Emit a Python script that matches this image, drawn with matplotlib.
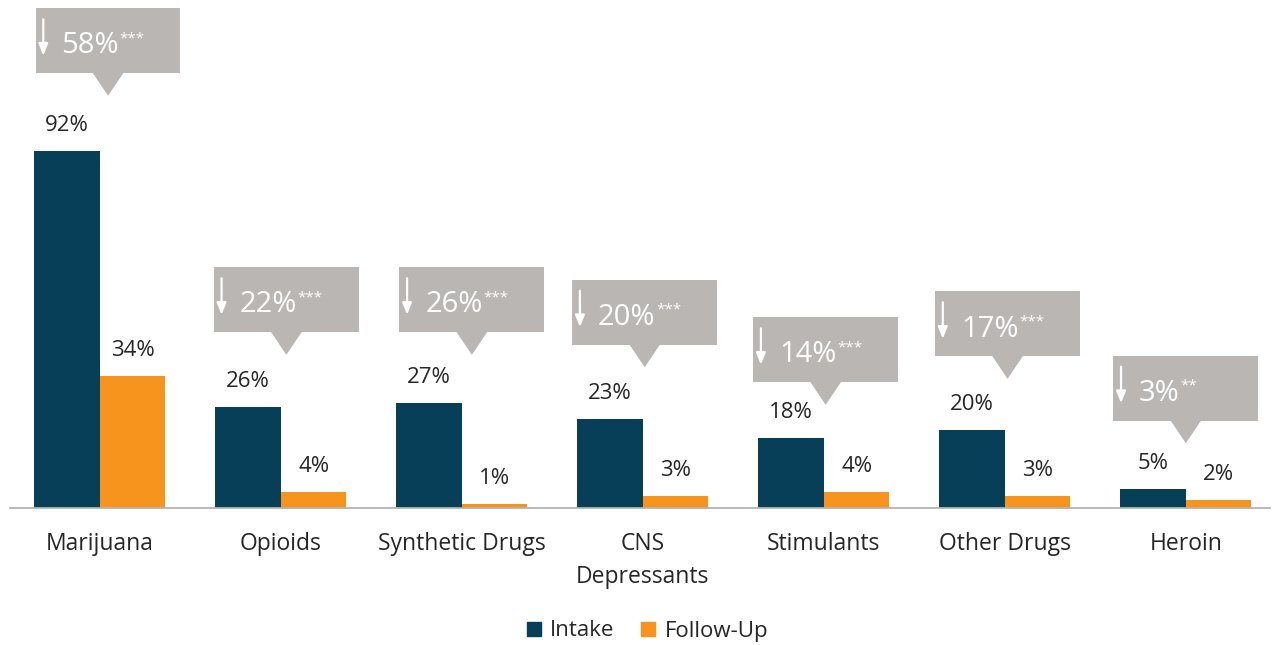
import numpy as np
import matplotlib.pyplot as plt
from matplotlib.patches import Polygon, Rectangle
from matplotlib.lines import Line2D

plt.rcParams['font.family'] = ['Open Sans', 'DejaVu Sans']

# Data
categories = ["Marijuana", "Opioids", "Synthetic Drugs", "CNS\nDepressants",
              "Stimulants", "Other Drugs", "Heroin"]
intake = [92, 26, 27, 23, 18, 20, 5]
follow_up = [34, 4, 1, 3, 4, 3, 2]
change = ["58%", "22%", "26%", "20%", "14%", "17%", "3%"]
signif = ["***", "***", "***", "***", "***", "***", "**"]

# callout placement (gap above the intake bar, horizontal nudge)
box_gap = [20.1, 19.3, 18.3, 19.1, 14.4, 19.1, 17.5]
box_dx = [0.045, 0.03, 0.055, 0.01, 0.01, 0.015, 0.0]

c_intake = "#073f58"
c_follow = "#f7941d"
c_box = "#bab6b4"
c_text = "#262626"

fig = plt.figure(figsize=(12.73, 6.45), dpi=100)
ax = fig.add_axes([10 / 1273, 137 / 645, 1260 / 1273, 508 / 645])

x = np.arange(len(categories))
w = 0.362
ax.bar(x - w / 2, intake, w, color=c_intake, label="Intake")
ax.bar(x + w / 2, follow_up, w, color=c_follow, label="Follow-Up")

ax.set_xlim(-0.497, 6.465)
ax.set_ylim(0, 131)
for s in ["top", "right", "left"]:
    ax.spines[s].set_visible(False)
ax.spines["bottom"].set_color("#b3b3b3")
ax.spines["bottom"].set_linewidth(1.3)
ax.set_yticks([])
ax.set_xticks([])

# category labels
for xi, cat in zip(x, categories):
    ax.text(xi, -6.1, cat, ha="center", va="top", fontsize=16.5, color=c_text,
            linespacing=1.5)

# value labels
for xi, a, b in zip(x, intake, follow_up):
    ax.text(xi - w / 2, a + 6.6, f"{a}%", ha="center", va="center",
            fontsize=16, color=c_text)
    ax.text(xi + w / 2, b + 6.6, f"{b}%", ha="center", va="center",
            fontsize=16, color=c_text)

# callout boxes
bw = 0.8
bh = 16.8
for xi, a, ch, sg, gap, dx in zip(x, intake, change, signif, box_gap, box_dx):
    cx = xi + dx
    y0 = a + gap
    tip = y0 - 5.8
    ax.add_patch(Rectangle((cx - bw / 2, y0), bw, bh, color=c_box, lw=0,
                           clip_on=False))
    ax.add_patch(Polygon([(cx - 0.085, y0 + 0.1), (cx + 0.085, y0 + 0.1),
                          (cx, tip)], closed=True, color=c_box, lw=0,
                         clip_on=False))
    ax_l = cx - bw / 2 + 0.042
    ax.annotate("", xy=(ax_l, y0 + bh * 0.27), xytext=(ax_l, y0 + bh * 0.83),
                arrowprops=dict(arrowstyle="-|>,head_length=0.7,head_width=0.28",
                                color="white", lw=1.6, shrinkA=0, shrinkB=0))
    t = ax.text(ax_l + 0.1, y0 + bh * 0.42, ch, ha="left", va="center",
                fontsize=21, color="white")
    ax.annotate(sg, xy=(1, 1), xycoords=t, xytext=(0.5, 0),
                textcoords="offset points", ha="left", va="top",
                fontsize=11, color="white")

# legend
handles = [Line2D([], [], marker="s", ls="", color=c_intake, markersize=10.5),
           Line2D([], [], marker="s", ls="", color=c_follow, markersize=10.5)]
fig.legend(handles, ["Intake", "Follow-Up"], loc="center",
           bbox_to_anchor=(646 / 1273, 1 - 631 / 645), ncol=2, frameon=False,
           fontsize=16, handlelength=0.9, handletextpad=0.3,
           columnspacing=1.05, labelcolor=c_text)

fig.savefig("out.png", dpi=100)
